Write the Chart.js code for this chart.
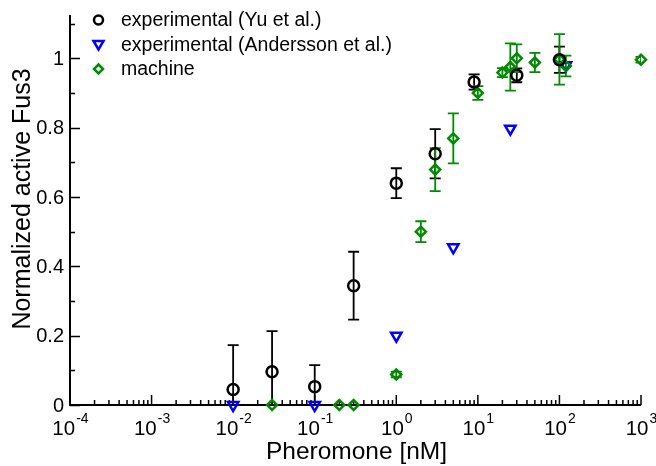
<!DOCTYPE html>
<html lang="en">

<head>
    <meta charset="UTF-8">
    <title>Normalized active Fus3 vs Pheromone</title>
    <script src="https://cdn.jsdelivr.net/npm/chart.js"></script>
    <style>
        body { margin: 0; background: #fff; }
        #fusChart { display: block; }
    </style>
</head>

<body>
    <canvas id="fusChart" width="656" height="466"></canvas>

    <script>
        // Yu et al. (black circles, with error bars)
        const yuDose = [0.01, 0.03, 0.1, 0.3, 1, 3, 9, 30, 100];
        const yuValue = [0.045, 0.096, 0.053, 0.344, 0.64, 0.725, 0.932, 0.951, 0.996];
        const yuError = [0.128, 0.117, 0.062, 0.098, 0.043, 0.071, 0.022, 0.02, 0.038];

        // Andersson et al. (blue triangles, no error bars)
        const anderssonDose = [0.01, 0.1, 1, 5, 25, 120];
        const anderssonValue = [0, 0, 0.2, 0.455, 0.797, 0.98];

        // machine (green diamonds, with error bars)
        const machineDose = [0.03, 0.2, 0.3, 1, 2, 3, 5, 10, 20, 25, 30, 50, 100, 120, 1000];
        const machineValue = [0, 0, 0, 0.088, 0.5, 0.679, 0.769, 0.9, 0.959, 0.975, 1.0, 0.988, 0.997, 0.978, 0.996];
        const machineError = [0, 0, 0, 0.008, 0.03, 0.062, 0.072, 0.02, 0.013, 0.068, 0.04, 0.028, 0.073, 0.03, 0.008];

        const yTickValues = [0, 0.2, 0.4, 0.6, 0.8, 1];
        const yTickLabels = ['0', '0.2', '0.4', '0.6', '0.8', '1'];
        const xDecades = [-4, -3, -2, -1, 0, 1, 2, 3];

        const GREEN = 'rgb(0,139,0)';
        const BLUE = 'rgb(0,0,255)';
        const FONT = '"Liberation Sans", Arial, Helvetica, sans-serif';

        const toPoints = (xs, ys) => xs.map((x, i) => ({ x: x, y: ys[i] }));

        const axesPlugin = {
            id: 'axesPlugin',
            beforeDatasetsDraw(chart) {
                const ctx = chart.ctx;
                const xs = chart.scales.x;
                const ys = chart.scales.y;
                const area = chart.chartArea;

                // error bars, clipped to the plot area
                ctx.save();
                ctx.beginPath();
                ctx.rect(area.left, area.top, area.right - area.left, area.bottom - area.top);
                ctx.clip();
                chart.data.datasets.forEach(ds => {
                    if (!ds.errors) return;
                    ctx.strokeStyle = ds.borderColor;
                    ctx.lineWidth = 1.8;
                    ds.data.forEach((p, i) => {
                        const e = ds.errors[i];
                        if (!e) return;
                        const px = xs.getPixelForValue(p.x);
                        const top = ys.getPixelForValue(p.y + e);
                        const bot = ys.getPixelForValue(p.y - e);
                        ctx.beginPath();
                        ctx.moveTo(px, top); ctx.lineTo(px, bot);
                        ctx.moveTo(px - 5.5, top); ctx.lineTo(px + 5.5, top);
                        ctx.moveTo(px - 5.5, bot); ctx.lineTo(px + 5.5, bot);
                        ctx.stroke();
                    });
                });
                ctx.restore();

                // axis lines and inward ticks
                ctx.save();
                ctx.strokeStyle = '#000';
                ctx.lineWidth = 2;
                ctx.beginPath();
                ctx.moveTo(area.left, area.top);
                ctx.lineTo(area.left, area.bottom);
                ctx.lineTo(area.right, area.bottom);
                ctx.stroke();

                ctx.lineWidth = 1.5;
                ctx.beginPath();
                for (let i = 0; i <= 11; i++) {
                    const v = i / 10;
                    const py = Math.round(ys.getPixelForValue(v)) + 0.5;
                    const len = i % 2 === 0 ? 10 : 5;
                    ctx.moveTo(area.left, py); ctx.lineTo(area.left + len, py);
                }
                xDecades.forEach(d => {
                    const base = Math.pow(10, d);
                    let px = xs.getPixelForValue(base);
                    ctx.moveTo(px, area.bottom); ctx.lineTo(px, area.bottom - 10);
                    if (d < 3) {
                        for (let k = 2; k <= 9; k++) {
                            px = xs.getPixelForValue(k * base);
                            ctx.moveTo(px, area.bottom); ctx.lineTo(px, area.bottom - 5);
                        }
                    }
                });
                ctx.stroke();

                // tick labels
                ctx.fillStyle = '#000';
                ctx.font = '20px ' + FONT;
                ctx.textAlign = 'right';
                ctx.textBaseline = 'middle';
                yTickValues.forEach((v, i) => {
                    ctx.fillText(yTickLabels[i], area.left - 6, ys.getPixelForValue(v) + 1);
                });

                ctx.textBaseline = 'alphabetic';
                ctx.textAlign = 'left';
                xDecades.forEach(d => {
                    const px = xs.getPixelForValue(Math.pow(10, d));
                    const exp = String(d);
                    ctx.font = '20.5px ' + FONT;
                    const wBase = ctx.measureText('10').width;
                    ctx.font = '14px ' + FONT;
                    const wExp = ctx.measureText(exp).width;
                    const x0 = px - (wBase + wExp) / 2;
                    ctx.font = '20.5px ' + FONT;
                    ctx.fillText('10', x0, 435);
                    ctx.font = '14px ' + FONT;
                    ctx.fillText(exp, x0 + wBase + 1, 423);
                });

                // axis titles
                ctx.font = '24.5px ' + FONT;
                ctx.textAlign = 'center';
                ctx.fillText('Pheromone [nM]', (area.left + area.right) / 2 + 1, 459);
                ctx.save();
                ctx.translate(23, 199);
                ctx.rotate(-Math.PI / 2);
                ctx.textBaseline = 'middle';
                ctx.font = '25px ' + FONT;
                ctx.fillText('Normalized active Fus3', 0, 0);
                ctx.restore();

                // legend
                ctx.font = '19.5px ' + FONT;
                ctx.textAlign = 'left';
                ctx.textBaseline = 'middle';
                const rows = [20, 44.5, 69];
                chart.data.datasets.forEach((ds, i) => {
                    const cy = rows[i];
                    ctx.strokeStyle = ds.borderColor;
                    ctx.lineWidth = 2.5;
                    ctx.beginPath();
                    if (ds.pointStyle === 'circle') {
                        ctx.arc(98.5, cy, 4.5, 0, Math.PI * 2);
                    } else if (ds.pointStyle === 'triangle') {
                        ctx.moveTo(93.5, cy - 3.5); ctx.lineTo(103.5, cy - 3.5); ctx.lineTo(98.5, cy + 5); ctx.closePath();
                    } else {
                        ctx.moveTo(98.5, cy - 4.5); ctx.lineTo(103, cy); ctx.lineTo(98.5, cy + 4.5); ctx.lineTo(94, cy); ctx.closePath();
                    }
                    ctx.stroke();
                    ctx.fillStyle = '#000';
                    ctx.fillText(ds.label, 121, cy + 1);
                });
                ctx.restore();
            }
        };

        const ctx = document.getElementById('fusChart').getContext('2d');
        new Chart(ctx, {
            type: 'scatter',
            data: {
                datasets: [{
                    label: 'experimental (Yu et al.)',
                    data: toPoints(yuDose, yuValue),
                    errors: yuError,
                    pointStyle: 'circle',
                    pointRadius: 5.5,
                    borderWidth: 2.5,
                    borderColor: '#000',
                    backgroundColor: 'rgba(0,0,0,0)',
                    clip: false,
                    order: 1
                }, {
                    label: 'experimental (Andersson et al.)',
                    data: toPoints(anderssonDose, anderssonValue),
                    pointStyle: 'triangle',
                    rotation: 180,
                    pointRadius: 6,
                    borderWidth: 2.5,
                    borderColor: BLUE,
                    backgroundColor: 'rgba(0,0,0,0)',
                    clip: false,
                    order: 3
                }, {
                    label: 'machine',
                    data: toPoints(machineDose, machineValue),
                    errors: machineError,
                    pointStyle: 'rectRot',
                    pointRadius: 5,
                    borderWidth: 2.5,
                    borderColor: GREEN,
                    backgroundColor: 'rgba(0,0,0,0)',
                    clip: false,
                    order: 2
                }]
            },
            options: {
                responsive: false,
                animation: false,
                layout: {
                    padding: { left: 70, right: 15, top: 15, bottom: 61 }
                },
                scales: {
                    x: { type: 'logarithmic', min: 1e-4, max: 1e3, display: false },
                    y: { type: 'linear', min: 0, max: 1.125, display: false }
                },
                plugins: {
                    legend: { display: false },
                    tooltip: { enabled: false }
                }
            },
            plugins: [axesPlugin]
        });
    </script>
</body>

</html>
